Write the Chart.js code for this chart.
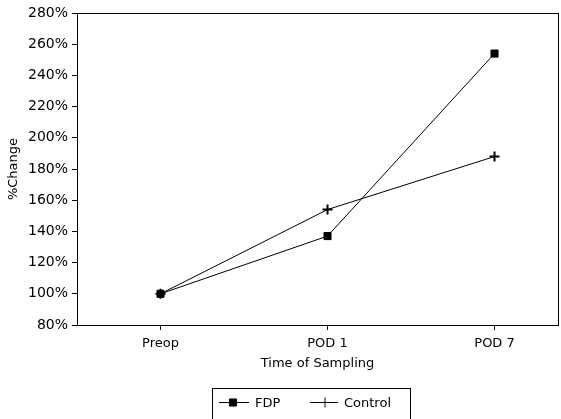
<!DOCTYPE html>
<html>
<head>
<meta charset="utf-8">
<script src="https://cdn.jsdelivr.net/npm/chart.js@4"></script>
<style>
  html, body { margin: 0; padding: 0; background: #fff; }
  #wrap { width: 561px; height: 419px; }
</style>
</head>
<body>
<div id="wrap"><canvas id="chart"></canvas></div>
<script>
const categories = ['Preop', 'POD 1', 'POD 7'];
const fdpValues = [100, 137, 254];
const controlValues = [100, 154, 188];
const yTicks = [80, 100, 120, 140, 160, 180, 200, 220, 240, 260, 280];

const FONT = 'DejaVu Sans, Verdana, sans-serif';

function toPoints(values) {
  return values.map((v, i) => ({ x: i, y: v }));
}

// box round the plot area, and the boxed legend under the axis title
const framePlugin = {
  id: 'frame',
  afterDraw(chart) {
    const ctx = chart.ctx;
    const a = chart.chartArea;
    ctx.save();
    ctx.strokeStyle = '#000';
    ctx.fillStyle = '#000';
    ctx.lineWidth = 1;
    ctx.strokeRect(Math.round(a.left) + 0.5, Math.round(a.top) + 0.5,
      Math.round(a.right - a.left), Math.round(a.bottom - a.top));

    // legend
    ctx.strokeRect(212.5, 388.5, 198, 40);
    const items = [
      { ds: chart.data.datasets[0], x0: 219, x1: 249, mx: 233, tx: 255 },
      { ds: chart.data.datasets[1], x0: 310, x1: 338, mx: 325, tx: 344 }
    ];
    const cy = 402.5;
    ctx.font = '13px ' + FONT;
    ctx.textBaseline = 'middle';
    items.forEach(it => {
      ctx.lineWidth = 1;
      ctx.beginPath();
      ctx.moveTo(it.x0, cy);
      ctx.lineTo(it.x1, cy);
      ctx.stroke();
      Chart.helpers.drawPoint(ctx, {
        pointStyle: it.ds.pointStyle,
        radius: it.ds.pointRadius,
        borderWidth: it.ds.pointBorderWidth,
        rotation: 0
      }, it.mx, cy);
      ctx.fillStyle = '#000';
      ctx.fillText(it.ds.label, it.tx, cy + 1);
    });
    ctx.restore();
  }
};

new Chart(document.getElementById('chart'), {
  type: 'line',
  data: {
    datasets: [{
      label: 'FDP',
      data: toPoints(fdpValues),
      borderColor: '#000',
      backgroundColor: '#000',
      borderWidth: 1,
      pointStyle: 'rect',
      pointRadius: 5,
      pointBorderWidth: 1,
      tension: 0
    }, {
      label: 'Control',
      data: toPoints(controlValues),
      borderColor: '#000',
      backgroundColor: '#000',
      borderWidth: 1,
      pointStyle: 'cross',
      pointRadius: 5,
      pointBorderWidth: 2,
      tension: 0
    }]
  },
  options: {
    responsive: true,
    maintainAspectRatio: false,
    animation: false,
    layout: { autoPadding: false, padding: { top: 13, right: 3, left: 0, bottom: 40 } },
    plugins: {
      legend: { display: false },
      tooltip: { enabled: false }
    },
    scales: {
      x: {
        type: 'linear',
        min: -0.5,
        max: 2.38,
        afterBuildTicks: s => { s.ticks = categories.map((c, i) => ({ value: i })); },
        afterFit: s => { s.height = 54; s.paddingLeft = 0; s.paddingRight = 0; },
        ticks: {
          callback: v => categories[v],
          color: '#000',
          font: { family: FONT, size: 13 },
          padding: 6
        },
        grid: { display: true, drawOnChartArea: false, tickLength: 5, color: '#000' },
        border: { color: '#000' },
        title: {
          display: true,
          text: 'Time of Sampling',
          color: '#000',
          font: { family: FONT, size: 13 },
          padding: { top: 0, bottom: 8 }
        }
      },
      y: {
        min: 80,
        max: 280,
        afterBuildTicks: s => { s.ticks = yTicks.map(v => ({ value: v })); },
        afterFit: s => { s.width = 77; },
        ticks: {
          callback: v => v + '%',
          color: '#000',
          font: { family: FONT, size: 14 },
          padding: 4
        },
        grid: { display: true, drawOnChartArea: false, tickLength: 5, color: '#000' },
        border: { color: '#000' },
        title: {
          display: true,
          text: '%Change',
          color: '#000',
          font: { family: FONT, size: 13 },
          padding: { top: 6, bottom: 0 }
        }
      }
    }
  },
  plugins: [framePlugin]
});
</script>
</body>
</html>
